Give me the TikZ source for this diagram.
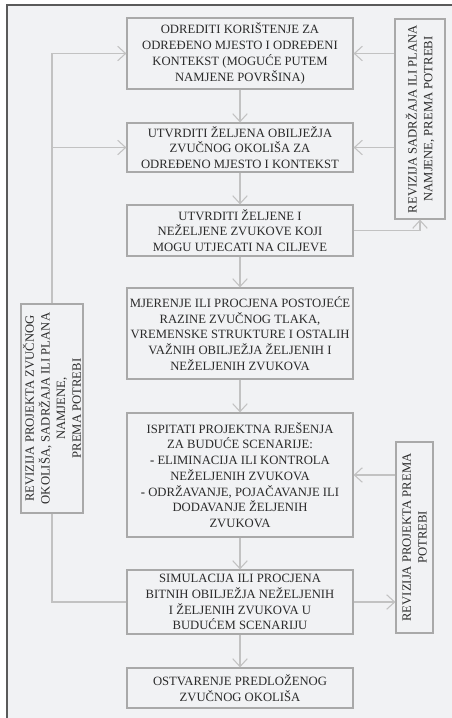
\documentclass[tikz,border=0pt]{standalone}
\usepackage{fontspec}
\setmainfont{Liberation Serif}
\usetikzlibrary{arrows.meta}
\definecolor{paper}{HTML}{F1F2F4}
\definecolor{boxgray}{HTML}{A9A9A9}
\definecolor{linkgray}{HTML}{C2C2C2}
\definecolor{ink}{HTML}{2A2A2A}
\definecolor{frame}{HTML}{5A5A5A}
\tikzset{
	box/.style={draw=boxgray,fill=paper,line width=0.9pt,minimum width=169.5pt,minimum height=#1,
		inner sep=1pt,align=center,text=ink,font=\fontsize{9.5}{11.8}\selectfont},
	sidebox/.style 2 args={draw=boxgray,fill=paper,line width=0.9pt,rotate=90,minimum width=#1,
		minimum height=#2,inner sep=1pt,align=center,text=ink,font=\fontsize{9.5}{11.8}\selectfont},
	link/.style={draw=linkgray,line width=0.8pt,-{Straight Barb[length=6pt,width=11pt,line width=0.8pt]}},
	plain/.style={draw=linkgray,line width=0.8pt}
}

\begin{document}
\begin{tikzpicture}[x=0.75pt,y=-0.75pt]
	\useasboundingbox (0,0) rectangle (452,718);
	
	%FRAME
	\fill[paper] (7,5) rectangle (452,718);
	\draw[frame,line width=1.2pt] (452,5)--(7,5)--(7,718);
	
	%MAIN COLUMN
	\node[box=53.25pt] (b1) at (240,53.5) {ODREDITI KORIŠTENJE ZA\\ODREĐENO MJESTO I ODREĐENI\\KONTEKST (MOGUĆE PUTEM\\NAMJENE POVRŠINA)};
	\node[box=36.75pt] (b2) at (240,147.5) {UTVRDITI ŽELJENA OBILJEŽJA\\ZVUČNOG OKOLIŠA ZA\\ODREĐENO MJESTO I KONTEKST};
	\node[box=38.25pt] (b3) at (240,230.5) {UTVRDITI ŽELJENE I\\NEŽELJENE ZVUKOVE KOJI\\MOGU UTJECATI NA CILJEVE};
	\node[box=68.25pt] (b4) at (240,333.5) {MJERENJE ILI PROCJENA POSTOJEĆE\\RAZINE ZVUČNOG TLAKA,\\VREMENSKE STRUKTURE I OSTALIH\\VAŽNIH OBILJEŽJA ŽELJENIH I\\NEŽELJENIH ZVUKOVA};
	\node[box=93pt] (b5) at (240,475) {ISPITATI PROJEKTNA RJEŠENJA\\ZA BUDUĆE SCENARIJE:\\\textbf{-} ELIMINACIJA ILI KONTROLA\\NEŽELJENIH ZVUKOVA\\\textbf{-} ODRŽAVANJE, POJAČAVANJE ILI\\DODAVANJE ŽELJENIH\\ZVUKOVA};
	\node[box=48pt] (b6) at (240,602) {SIMULACIJA ILI PROCJENA\\BITNIH OBILJEŽJA NEŽELJENIH\\I ŽELJENIH ZVUKOVA U\\BUDUĆEM SCENARIJU};
	\node[box=30pt] (b7) at (240,688) {OSTVARENJE PREDLOŽENOG\\ZVUČNOG OKOLIŠA};
	
	%SIDE BOXES
	\node[sidebox={150pt}{37.5pt}] (rtop) at (420,119) {REVIZIJA SADRŽAJA ILI PLANA\\NAMJENE, PREMA POTREBI};
	\node[sidebox={143.25pt}{27.75pt}] (rbot) at (414.5,537.5) {REVIZIJA PROJEKTA PREMA\\POTREBI};
	\node[sidebox={156.75pt}{46.5pt}] (lbox) at (52,408.5) {REVIZIJA PROJEKTA ZVUČNOG\\OKOLIŠA, SADRŽAJA ILI PLANA\\NAMJENE,\\PREMA POTREBI};
	
	%DOWNWARD FLOW
	\draw[link] (b1)--(b2);
	\draw[link] (b2)--(b3);
	\draw[link] (b3)--(b4);
	\draw[link] (b4)--(b5);
	\draw[link] (b5)--(b6);
	\draw[link] (b6)--(b7);
	
	%LEFT LOOP
	\draw[link] (lbox.east) |- (b1.west);
	\draw[link] (lbox.east |- b2.west)--(b2.west);
	\draw[plain] (lbox.west) |- (b6.west);
	
	%RIGHT LOOPS
	\draw[link] (rtop.north |- b1.east)--(b1.east);
	\draw[link] (rtop.north |- b2.east)--(b2.east);
	\draw[link] (b3.east) -| (rtop.west);
	\draw[link] (rbot.north |- b5.east)--(b5.east);
	\draw[link] (b6.east)--(b6.east -| rbot.north);
\end{tikzpicture}
\end{document}
